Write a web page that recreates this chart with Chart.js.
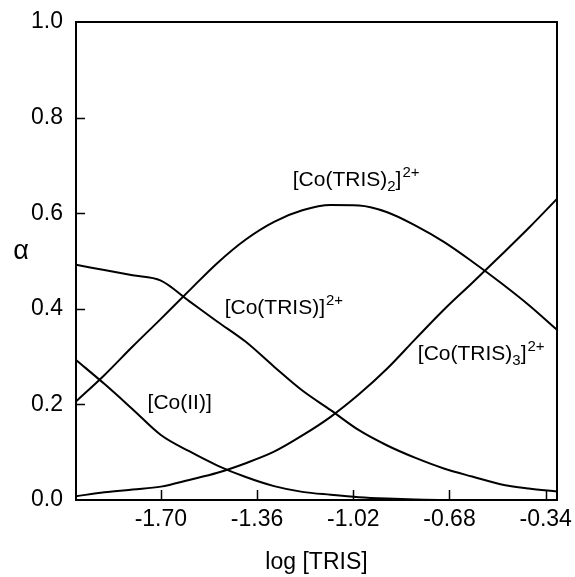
<!DOCTYPE html>
<html>
<head>
<meta charset="utf-8">
<script src="https://cdn.jsdelivr.net/npm/chart.js@4.4.1/dist/chart.umd.min.js"></script>
<style>
  html, body { margin: 0; padding: 0; background: #fff; }
  #wrap { width: 575px; height: 577px; position: relative; }
</style>
</head>
<body>
<div id="wrap"><canvas id="c"></canvas></div>
<script>
// ---- data ----
const logTris = [-2.00, -1.90, -1.80, -1.70, -1.60, -1.50, -1.40, -1.30, -1.20, -1.10, -1.00, -0.90, -0.80, -0.70, -0.60, -0.50, -0.40, -0.30];
const coII     = [0.293, 0.243, 0.190, 0.136, 0.102, 0.072, 0.048, 0.029, 0.017, 0.011, 0.006, 0.003, 0.001, 0.000, 0.000, 0.000, 0.000, 0.000];
const coTris1  = [0.492, 0.481, 0.470, 0.459, 0.416, 0.373, 0.331, 0.279, 0.229, 0.188, 0.146, 0.114, 0.088, 0.066, 0.049, 0.033, 0.024, 0.018];
const coTris2  = [0.206, 0.261, 0.321, 0.379, 0.438, 0.496, 0.545, 0.582, 0.606, 0.617, 0.616, 0.602, 0.574, 0.540, 0.499, 0.455, 0.408, 0.356];
const coTris3  = [0.008, 0.016, 0.022, 0.028, 0.042, 0.057, 0.077, 0.101, 0.135, 0.174, 0.221, 0.275, 0.337, 0.398, 0.454, 0.511, 0.569, 0.630];
const xTickValues = [-1.70, -1.36, -1.02, -0.68, -0.34];
const yTickValues = [0.0, 0.2, 0.4, 0.6, 0.8, 1.0];
const xTitle = 'log [TRIS]';
const yTitle = 'α';
// curve labels: main text, subscript, closing, superscript, anchor in data units
const curveLabels = [
  { pre: '[Co(TRIS)', sub: '2', post: ']', sup: '2+', x: -1.234, y: 0.669 },
  { pre: '[Co(TRIS)]', sub: '', post: '', sup: '2+', x: -1.4745, y: 0.402 },
  { pre: '[Co(II)]', sub: '', post: '', sup: '', x: -1.747, y: 0.203 },
  { pre: '[Co(TRIS)', sub: '3', post: ']', sup: '2+', x: -0.792, y: 0.306 }
];
const yTitlePos = { y: 0.52 };

const FONT = '"Liberation Sans", Arial, Helvetica, sans-serif';

function series(vals) {
  return logTris.map((x, i) => ({ x: x, y: vals[i] }));
}

const ds = (vals) => ({
  data: series(vals),
  borderColor: '#000',
  borderWidth: 2,
  pointRadius: 0,
  fill: false,
  cubicInterpolationMode: 'monotone'
});

const decor = {
  id: 'decor',
  afterDatasetsDraw(chart) {
    const ctx = chart.ctx;
    const a = chart.chartArea;
    const xs = chart.scales.x, ys = chart.scales.y;
    ctx.save();
    ctx.strokeStyle = '#000';
    ctx.lineWidth = 2;
    ctx.strokeRect(a.left, a.top, a.right - a.left, a.bottom - a.top);
    ctx.lineWidth = 1.5;
    ctx.beginPath();
    xTickValues.forEach(v => {
      const px = Math.round(xs.getPixelForValue(v)) + 0.5;
      ctx.moveTo(px, a.bottom);
      ctx.lineTo(px, a.bottom - 10);
    });
    yTickValues.forEach(v => {
      if (v <= 0 || v >= 1) return;
      const py = Math.round(ys.getPixelForValue(v)) + 0.5;
      ctx.moveTo(a.left, py);
      ctx.lineTo(a.left + 9, py);
    });
    ctx.stroke();

    // curve labels
    ctx.fillStyle = '#000';
    ctx.textBaseline = 'middle';
    ctx.textAlign = 'left';
    curveLabels.forEach(l => {
      let px = xs.getPixelForValue(l.x);
      const py = ys.getPixelForValue(l.y);
      ctx.font = '21px ' + FONT;
      ctx.fillText(l.pre, px, py);
      px += ctx.measureText(l.pre).width;
      if (l.sub) {
        ctx.font = '15px ' + FONT;
        ctx.fillText(l.sub, px, py + 7);
        px += ctx.measureText(l.sub).width;
      }
      if (l.post) {
        ctx.font = '21px ' + FONT;
        ctx.fillText(l.post, px, py);
        px += ctx.measureText(l.post).width;
      }
      if (l.sup) {
        ctx.font = '15px ' + FONT;
        ctx.fillText(l.sup, px + 1, py - 7);
      }
    });

    // y title
    ctx.font = '27px ' + FONT;
    ctx.textAlign = 'center';
    ctx.fillText(yTitle, 21, ys.getPixelForValue(yTitlePos.y));
    ctx.restore();
  }
};

new Chart(document.getElementById('c'), {
  type: 'line',
  data: { datasets: [ds(coII), ds(coTris1), ds(coTris2), ds(coTris3)] },
  options: {
    responsive: true,
    maintainAspectRatio: false,
    animation: false,
    events: [],
    layout: { padding: { left: 0, right: 18, top: 22, bottom: 0 } },
    plugins: { legend: { display: false }, tooltip: { enabled: false } },
    scales: {
      x: {
        type: 'linear',
        min: -2.0,
        max: -0.30,
        afterBuildTicks(scale) { scale.ticks = xTickValues.map(v => ({ value: v })); },
        afterFit(scale) { scale.height = 77; scale.paddingLeft = 0; scale.paddingRight = 0; },
        grid: { display: false, drawTicks: false },
        border: { display: false },
        ticks: {
          autoSkip: false,
          maxRotation: 0,
          padding: 6,
          color: '#000',
          font: { family: FONT, size: 23 },
          callback: v => Number(v).toFixed(2)
        },
        title: {
          display: true,
          text: xTitle,
          color: '#000',
          font: { family: FONT, size: 23 },
          padding: { top: 0, bottom: 1 }
        }
      },
      y: {
        min: 0,
        max: 1,
        afterBuildTicks(scale) { scale.ticks = yTickValues.map(v => ({ value: v })); },
        afterFit(scale) { scale.width = 76; scale.paddingTop = 0; scale.paddingBottom = 0; },
        grid: { display: false, drawTicks: false },
        border: { display: false },
        ticks: {
          padding: 13,
          color: '#000',
          font: { family: FONT, size: 23 },
          callback: v => Number(v).toFixed(1)
        }
      }
    }
  },
  plugins: [decor]
});
</script>
</body>
</html>
